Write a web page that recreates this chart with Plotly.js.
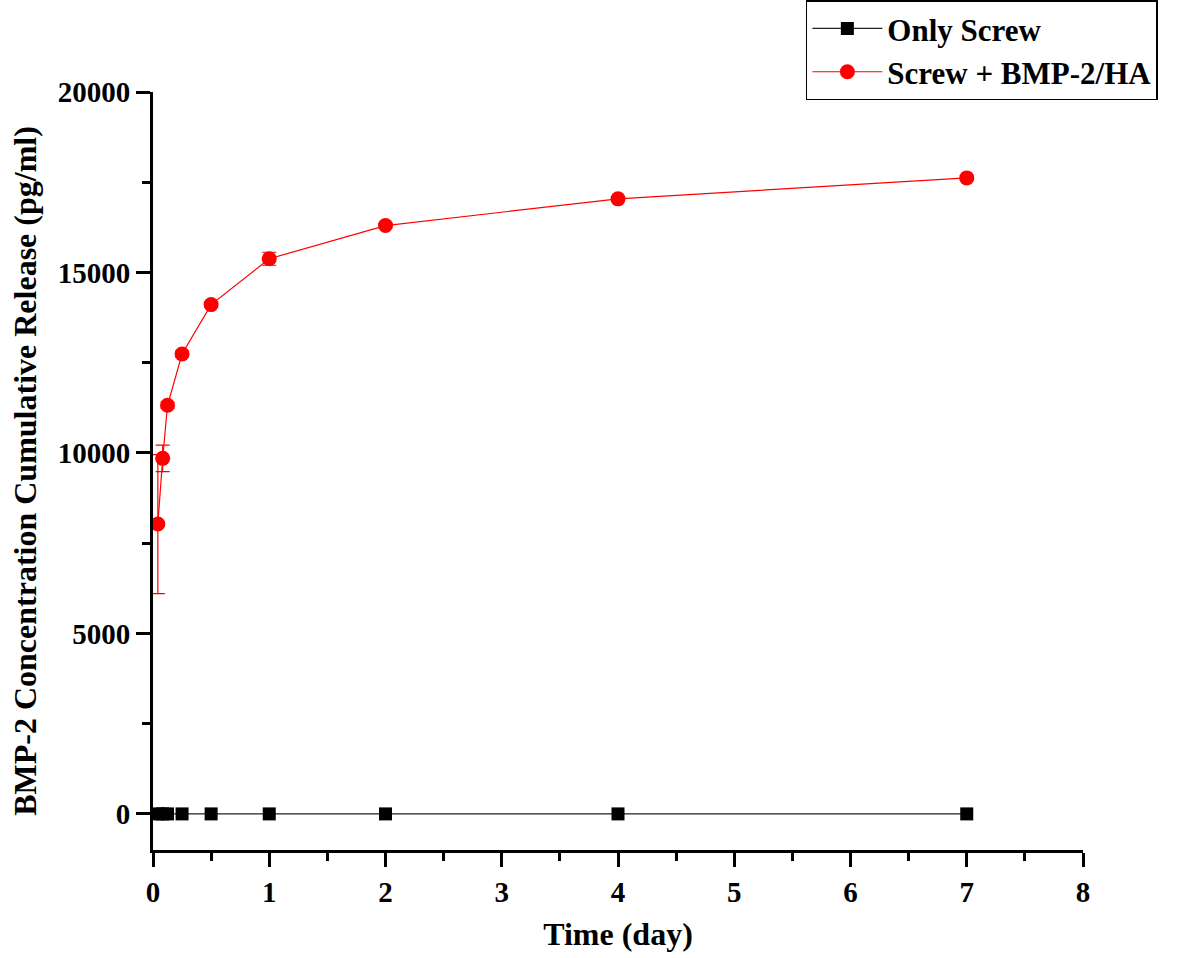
<!DOCTYPE html>
<html>
<head>
<meta charset="utf-8">
<script src="https://cdn.plot.ly/plotly-3.0.1.min.js"></script>
<style>html,body{margin:0;padding:0;background:#fff;}#chart{width:1181px;height:958px;}</style>
</head>
<body>
<div id="chart"></div>
<script>
// Time points (day)
const timeDays = [0.0417, 0.0833, 0.125, 0.25, 0.5, 1, 2, 4, 7];
// Only Screw release (pg/ml)
const onlyScrew = [0, 0, 0, 0, 0, 0, 0, 0, 0];
// Screw + BMP-2/HA release (pg/ml)
const screwBmp = [8030, 9850, 11320, 12740, 14110, 15380, 16300, 17040, 17620];
// Screw + BMP-2/HA standard deviation
const screwBmpErr = [1925, 367, 80, 80, 80, 180, 60, 60, 60];

const xTicks = [0, 1, 2, 3, 4, 5, 6, 7, 8];
const yTicks = [0, 5000, 10000, 15000, 20000];

const fontFam = '"Liberation Serif", "Times New Roman", serif';

const traces = [
  {
    x: timeDays, y: onlyScrew, name: 'Only Screw', mode: 'lines+markers', type: 'scatter',
    line: {color: '#222', width: 1.2},
    marker: {symbol: 'square', size: 13, color: '#000'}
  },
  {
    x: timeDays, y: screwBmp, name: 'Screw + BMP-2/HA', mode: 'lines+markers', type: 'scatter',
    line: {color: '#ff0000', width: 1.2},
    marker: {symbol: 'circle', size: 15, color: '#ff0000'},
    error_y: {type: 'data', array: screwBmpErr, visible: true, color: '#ff0000', thickness: 1.2, width: 7}
  }
];

const layout = {
  width: 1181, height: 958,
  paper_bgcolor: '#fff', plot_bgcolor: '#fff',
  margin: {l: 153, r: 98, t: 92, b: 108, autoexpand: false},
  showlegend: true,
  legend: {
    x: 0.702, y: 1.121, xanchor: 'left', yanchor: 'top',
    bordercolor: '#000', borderwidth: 1.5, bgcolor: '#fff',
    font: {family: fontFam, size: 31, weight: 'bold', color: '#000'},
    itemwidth: 70, tracegroupgap: 0
  },
  xaxis: {
    range: [0, 8], tickvals: xTicks, ticktext: xTicks.map(String),
    showgrid: false, zeroline: false,
    showline: true, linecolor: '#000', linewidth: 3,
    ticks: 'outside', ticklen: 14, tickwidth: 3, tickcolor: '#000',
    minor: {ticks: 'outside', ticklen: 8, tickwidth: 3, tickcolor: '#000', dtick: 0.5, showgrid: false},
    tickfont: {family: fontFam, size: 29, weight: 'bold', color: '#000'},
    title: {text: 'Time (day)', standoff: 16, font: {family: fontFam, size: 32, weight: 'bold', color: '#000'}}
  },
  yaxis: {
    range: [-1000, 20000], tickvals: yTicks, ticktext: yTicks.map(String),
    showgrid: false, zeroline: false,
    showline: true, linecolor: '#000', linewidth: 3,
    ticks: 'outside', ticklen: 14, tickwidth: 3, tickcolor: '#000',
    minor: {ticks: 'outside', ticklen: 8, tickwidth: 3, tickcolor: '#000', dtick: 2500, showgrid: false},
    tickfont: {family: fontFam, size: 29, weight: 'bold', color: '#000'},
    title: {text: 'BMP-2 Concentration Cumulative Release (pg/ml)', standoff: 12, font: {family: fontFam, size: 32, weight: 'bold', color: '#000'}}
  }
};

Plotly.newPlot('chart', traces, layout, {displayModeBar: false, staticPlot: true});
</script>
</body>
</html>
